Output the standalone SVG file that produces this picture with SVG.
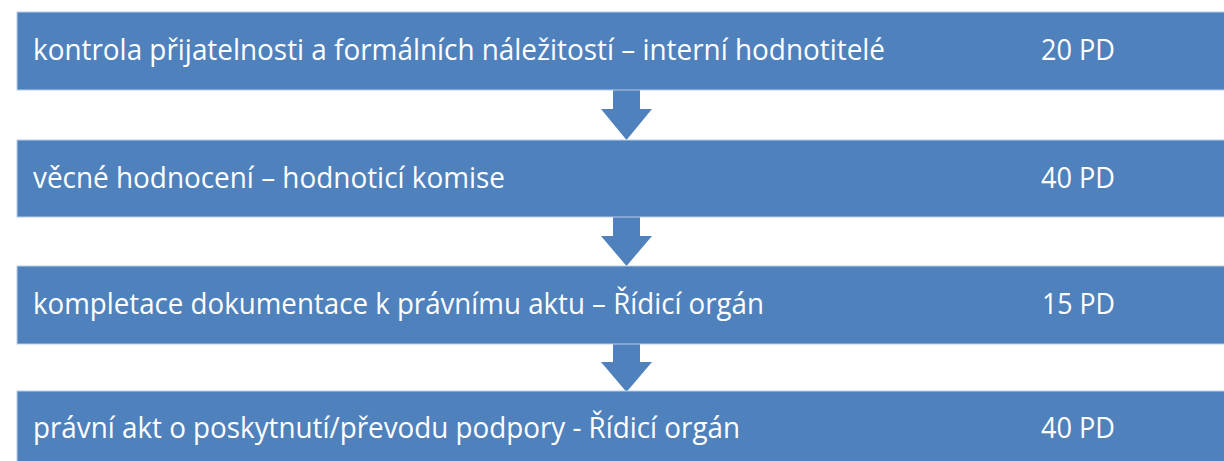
<svg xmlns="http://www.w3.org/2000/svg" width="1224" height="461" viewBox="0 0 1224 461">
<style>
.bar{fill:#4F81BD;stroke:#B9CDE5;stroke-width:1}
.arr{fill:#4F81BD}
.t{font-family:"Open Sans","Noto Sans","Liberation Sans",sans-serif;font-size:29.5px;fill:#FFFFFF}
</style>
<rect x="0" y="0" width="1224" height="461" fill="#FFFFFF"/>
<g id="connectors">
<polygon class="arr" points="613,90 640,90 640,109 652,109 626.5,140 601,109 613,109"/>
<polygon class="arr" points="613,217 640,217 640,236 652,236 626.5,266 601,236 613,236"/>
<polygon class="arr" points="613,344 640,344 640,362 652,362 626.5,392 601,362 613,362"/>
</g>
<g id="step1">
<rect class="bar" x="17" y="12" width="1220" height="78"/>
<text class="t" x="33" y="60" textLength="852" lengthAdjust="spacingAndGlyphs">kontrola přijatelnosti a formálních náležitostí – interní hodnotitelé</text>
<text class="t" x="1041" y="60" textLength="74" lengthAdjust="spacingAndGlyphs">20 PD</text>
</g>
<g id="step2">
<rect class="bar" x="17" y="140" width="1220" height="77"/>
<text class="t" x="33" y="188" textLength="472" lengthAdjust="spacingAndGlyphs">věcné hodnocení – hodnoticí komise</text>
<text class="t" x="1041" y="188" textLength="74" lengthAdjust="spacingAndGlyphs">40 PD</text>
</g>
<g id="step3">
<rect class="bar" x="17" y="266" width="1220" height="78"/>
<text class="t" x="33" y="314" textLength="731" lengthAdjust="spacingAndGlyphs">kompletace dokumentace k právnímu aktu – Řídicí orgán</text>
<text class="t" x="1042" y="314" textLength="73" lengthAdjust="spacingAndGlyphs">15 PD</text>
</g>
<g id="step4">
<rect class="bar" x="17" y="391" width="1220" height="90"/>
<text class="t" x="33" y="438" textLength="707" lengthAdjust="spacingAndGlyphs">právní akt o poskytnutí/převodu podpory - Řídicí orgán</text>
<text class="t" x="1041" y="438" textLength="74" lengthAdjust="spacingAndGlyphs">40 PD</text>
</g>
</svg>
